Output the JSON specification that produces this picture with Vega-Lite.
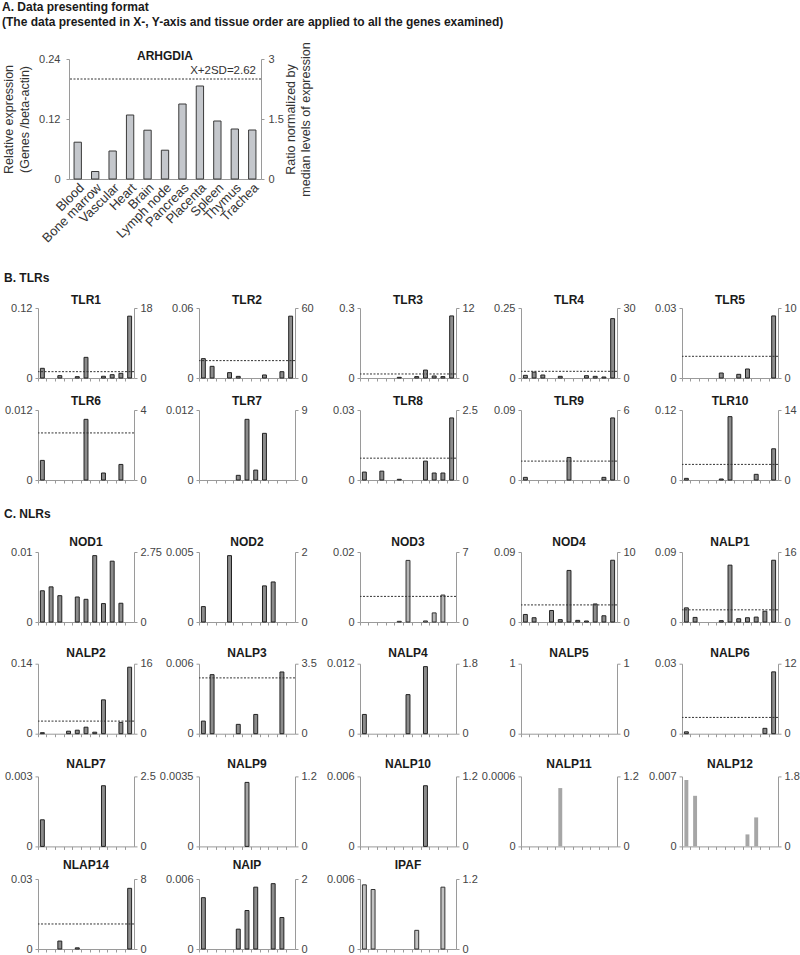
{
  "$schema": "https://vega.github.io/schema/vega-lite/v6.json",
  "padding": {"left": 2, "top": 0, "right": 2, "bottom": 0},
  "title": {"text": "A. Data presenting format", "subtitle": "\u00a0(The data presented in X-, Y-axis and tissue order are applied to all the genes examined)", "anchor": "start", "offset": 13},
  "datasets": {
    "expr": [
      {"gene":"ARHGDIA","tissue":"Blood","value":0.0736},{"gene":"ARHGDIA","tissue":"Bone marrow","value":0.015},{"gene":"ARHGDIA","tissue":"Vascular","value":0.056},{"gene":"ARHGDIA","tissue":"Heart","value":0.128},{"gene":"ARHGDIA","tissue":"Brain","value":0.0976},{"gene":"ARHGDIA","tissue":"Lymph node","value":0.0576},{"gene":"ARHGDIA","tissue":"Pancreas","value":0.150},{"gene":"ARHGDIA","tissue":"Placenta","value":0.186},{"gene":"ARHGDIA","tissue":"Spleen","value":0.116},{"gene":"ARHGDIA","tissue":"Thymus","value":0.100},{"gene":"ARHGDIA","tissue":"Trachea","value":0.098},
      {"gene":"TLR1","tissue":"Blood","value":0.0166},{"gene":"TLR1","tissue":"Vascular","value":0.004},{"gene":"TLR1","tissue":"Brain","value":0.0023},{"gene":"TLR1","tissue":"Lymph node","value":0.0354},{"gene":"TLR1","tissue":"Placenta","value":0.003},{"gene":"TLR1","tissue":"Spleen","value":0.0057},{"gene":"TLR1","tissue":"Thymus","value":0.008},{"gene":"TLR1","tissue":"Trachea","value":0.106},
      {"gene":"TLR2","tissue":"Blood","value":0.0166},{"gene":"TLR2","tissue":"Bone marrow","value":0.010},{"gene":"TLR2","tissue":"Heart","value":0.0046},{"gene":"TLR2","tissue":"Brain","value":0.0014},{"gene":"TLR2","tissue":"Placenta","value":0.0026},{"gene":"TLR2","tissue":"Thymus","value":0.0054},{"gene":"TLR2","tissue":"Trachea","value":0.053},
      {"gene":"TLR3","tissue":"Brain","value":0.003},{"gene":"TLR3","tissue":"Pancreas","value":0.006},{"gene":"TLR3","tissue":"Placenta","value":0.034},{"gene":"TLR3","tissue":"Spleen","value":0.0086},{"gene":"TLR3","tissue":"Thymus","value":0.006},{"gene":"TLR3","tissue":"Trachea","value":0.266},
      {"gene":"TLR4","tissue":"Blood","value":0.0095},{"gene":"TLR4","tissue":"Bone marrow","value":0.021},{"gene":"TLR4","tissue":"Vascular","value":0.0107},{"gene":"TLR4","tissue":"Brain","value":0.006},{"gene":"TLR4","tissue":"Placenta","value":0.0083},{"gene":"TLR4","tissue":"Spleen","value":0.006},{"gene":"TLR4","tissue":"Thymus","value":0.0036},{"gene":"TLR4","tissue":"Trachea","value":0.212},
      {"gene":"TLR5","tissue":"Brain","value":0.00214},{"gene":"TLR5","tissue":"Pancreas","value":0.00157},{"gene":"TLR5","tissue":"Placenta","value":0.00386},{"gene":"TLR5","tissue":"Trachea","value":0.0266},
      {"gene":"TLR6","tissue":"Blood","value":0.00336},{"gene":"TLR6","tissue":"Lymph node","value":0.0104},{"gene":"TLR6","tissue":"Placenta","value":0.0012},{"gene":"TLR6","tissue":"Thymus","value":0.00267},
      {"gene":"TLR7","tissue":"Brain","value":0.0008},{"gene":"TLR7","tissue":"Lymph node","value":0.0104},{"gene":"TLR7","tissue":"Pancreas","value":0.0017},{"gene":"TLR7","tissue":"Placenta","value":0.008},
      {"gene":"TLR8","tissue":"Blood","value":0.0034},{"gene":"TLR8","tissue":"Vascular","value":0.0038},{"gene":"TLR8","tissue":"Brain","value":0.0003},{"gene":"TLR8","tissue":"Placenta","value":0.0081},{"gene":"TLR8","tissue":"Spleen","value":0.003},{"gene":"TLR8","tissue":"Thymus","value":0.003},{"gene":"TLR8","tissue":"Trachea","value":0.0266},
      {"gene":"TLR9","tissue":"Blood","value":0.0034},{"gene":"TLR9","tissue":"Lymph node","value":0.029},{"gene":"TLR9","tissue":"Thymus","value":0.0034},{"gene":"TLR9","tissue":"Trachea","value":0.0798},
      {"gene":"TLR10","tissue":"Blood","value":0.0028},{"gene":"TLR10","tissue":"Brain","value":0.0017},{"gene":"TLR10","tissue":"Lymph node","value":0.1086},{"gene":"TLR10","tissue":"Spleen","value":0.0097},{"gene":"TLR10","tissue":"Trachea","value":0.0535},
      {"gene":"NOD1","tissue":"Blood","value":0.00446},{"gene":"NOD1","tissue":"Bone marrow","value":0.00502},{"gene":"NOD1","tissue":"Vascular","value":0.00376},{"gene":"NOD1","tissue":"Brain","value":0.00357},{"gene":"NOD1","tissue":"Lymph node","value":0.00324},{"gene":"NOD1","tissue":"Pancreas","value":0.00948},{"gene":"NOD1","tissue":"Placenta","value":0.00263},{"gene":"NOD1","tissue":"Spleen","value":0.00869},{"gene":"NOD1","tissue":"Thymus","value":0.00268},
      {"gene":"NOD2","tissue":"Blood","value":0.0011},{"gene":"NOD2","tissue":"Heart","value":0.00474},{"gene":"NOD2","tissue":"Placenta","value":0.00258},{"gene":"NOD2","tissue":"Spleen","value":0.00286},
      {"gene":"NOD3","tissue":"Brain","value":0.0002},{"gene":"NOD3","tissue":"Lymph node","value":0.0176},{"gene":"NOD3","tissue":"Placenta","value":0.0003},{"gene":"NOD3","tissue":"Spleen","value":0.0026},{"gene":"NOD3","tissue":"Thymus","value":0.0077},
      {"gene":"NOD4","tissue":"Blood","value":0.0097},{"gene":"NOD4","tissue":"Bone marrow","value":0.0055},{"gene":"NOD4","tissue":"Heart","value":0.0148},{"gene":"NOD4","tissue":"Brain","value":0.003},{"gene":"NOD4","tissue":"Lymph node","value":0.0663},{"gene":"NOD4","tissue":"Pancreas","value":0.0021},{"gene":"NOD4","tissue":"Placenta","value":0.0013},{"gene":"NOD4","tissue":"Spleen","value":0.0232},{"gene":"NOD4","tissue":"Thymus","value":0.008},{"gene":"NOD4","tissue":"Trachea","value":0.0794},
      {"gene":"NALP1","tissue":"Blood","value":0.0182},{"gene":"NALP1","tissue":"Bone marrow","value":0.0059},{"gene":"NALP1","tissue":"Brain","value":0.0017},{"gene":"NALP1","tissue":"Lymph node","value":0.0731},{"gene":"NALP1","tissue":"Pancreas","value":0.0042},{"gene":"NALP1","tissue":"Placenta","value":0.0055},{"gene":"NALP1","tissue":"Spleen","value":0.0063},{"gene":"NALP1","tissue":"Thymus","value":0.0139},{"gene":"NALP1","tissue":"Trachea","value":0.0794},
      {"gene":"NALP2","tissue":"Blood","value":0.002},{"gene":"NALP2","tissue":"Heart","value":0.005},{"gene":"NALP2","tissue":"Brain","value":0.007},{"gene":"NALP2","tissue":"Lymph node","value":0.013},{"gene":"NALP2","tissue":"Pancreas","value":0.003},{"gene":"NALP2","tissue":"Placenta","value":0.0677},{"gene":"NALP2","tissue":"Thymus","value":0.0226},{"gene":"NALP2","tissue":"Trachea","value":0.133},
      {"gene":"NALP3","tissue":"Blood","value":0.00108},{"gene":"NALP3","tissue":"Bone marrow","value":0.00506},{"gene":"NALP3","tissue":"Brain","value":0.0008},{"gene":"NALP3","tissue":"Pancreas","value":0.00165},{"gene":"NALP3","tissue":"Thymus","value":0.00529},
      {"gene":"NALP4","tissue":"Blood","value":0.0033},{"gene":"NALP4","tissue":"Lymph node","value":0.0067},{"gene":"NALP4","tissue":"Placenta","value":0.0115},
      {"gene":"NALP6","tissue":"Blood","value":0.0008},{"gene":"NALP6","tissue":"Thymus","value":0.0023},{"gene":"NALP6","tissue":"Trachea","value":0.0265},
      {"gene":"NALP7","tissue":"Blood","value":0.00114},{"gene":"NALP7","tissue":"Placenta","value":0.0026},
      {"gene":"NALP9","tissue":"Lymph node","value":0.0032},
      {"gene":"NALP10","tissue":"Placenta","value":0.0052},
      {"gene":"NALP11","tissue":"Brain","value":0.0005},
      {"gene":"NALP12","tissue":"Blood","value":0.00664},{"gene":"NALP12","tissue":"Bone marrow","value":0.00506},{"gene":"NALP12","tissue":"Placenta","value":0.0012},{"gene":"NALP12","tissue":"Spleen","value":0.0029},
      {"gene":"NLAP14","tissue":"Vascular","value":0.0034},{"gene":"NLAP14","tissue":"Brain","value":0.0005},{"gene":"NLAP14","tissue":"Trachea","value":0.026},
      {"gene":"NAIP","tissue":"Blood","value":0.0044},{"gene":"NAIP","tissue":"Brain","value":0.0017},{"gene":"NAIP","tissue":"Lymph node","value":0.0033},{"gene":"NAIP","tissue":"Pancreas","value":0.0053},{"gene":"NAIP","tissue":"Spleen","value":0.0056},{"gene":"NAIP","tissue":"Thymus","value":0.0027},
      {"gene":"IPAF","tissue":"Blood","value":0.0055},{"gene":"IPAF","tissue":"Bone marrow","value":0.0051},{"gene":"IPAF","tissue":"Pancreas","value":0.0016},{"gene":"IPAF","tissue":"Thymus","value":0.0053}
    ],
    "thr": [
      {"gene":"ARHGDIA","ratio":2.5,"label":"X+2SD=2.62"},
      {"gene":"TLR1","ratio":1.63},{"gene":"TLR2","ratio":14.9},{"gene":"TLR3","ratio":0.69},{"gene":"TLR4","ratio":2.86},{"gene":"TLR5","ratio":3.1},
      {"gene":"TLR6","ratio":2.69},{"gene":"TLR8","ratio":0.78},{"gene":"TLR9","ratio":1.62},{"gene":"TLR10","ratio":3.12},
      {"gene":"NOD3","ratio":2.56},{"gene":"NOD4","ratio":2.44},{"gene":"NALP1","ratio":2.78},
      {"gene":"NALP2","ratio":2.88},{"gene":"NALP3","ratio":2.79},{"gene":"NALP6","ratio":2.79},
      {"gene":"NLAP14","ratio":2.86}
    ]
  },
  "columns": 1,
  "align": "none",
  "spacing": 27,
  "concat": [
    {
      "hconcat": [
        {"width": 31, "height": 120, "data": {"values": []}, "mark": "point", "encoding": {}},
        {
          "title": {"text": "ARHGDIA", "anchor": "middle", "frame": "group", "offset": -21},
          "width": 192, "height": 120,
          "layer": [
            {"data": {"name": "expr"}, "transform": [{"filter": "datum.gene === 'ARHGDIA'"}],
             "mark": {"type": "bar", "width": {"band": 0.42}, "fill": "#c4c7cc", "stroke": "#3a3a3a", "strokeWidth": 1},
             "encoding": {
               "x": {"field": "tissue", "type": "nominal", "title": null, "scale": {"domain": ["Blood","Bone marrow","Vascular","Heart","Brain","Lymph node","Pancreas","Placenta","Spleen","Thymus","Trachea"], "paddingInner": 0, "paddingOuter": 0}, "axis": {"labels": true, "ticks": false, "bandPosition": 0.5, "labelAngle": -45, "labelFontSize": 13, "labelColor": "#333", "labelPadding": 2}},
               "y": {"field": "value", "type": "quantitative", "scale": {"domain": [0, 0.24], "nice": false}, "axis": {"values": [0, 0.12, 0.24], "format": ".6~g", "title": ["Relative expression", "(Genes /beta-actin)"], "titleFontSize": 12.5, "titleFontWeight": "normal", "titleColor": "#333", "titlePadding": 4, "titleLineHeight": 16, "labelPadding": 6}}
             }},
            {"layer": [
              {"data": {"name": "thr"}, "transform": [{"filter": "datum.gene === 'ARHGDIA'"}],
               "mark": {"type": "rule", "strokeDash": [2, 1.5], "color": "#333", "strokeWidth": 1},
               "encoding": {"y": {"field": "ratio", "type": "quantitative", "scale": {"domain": [0, 3], "nice": false}, "axis": {"orient": "right", "values": [0, 1.5, 3], "format": ".6~g", "title": ["Ratio normalized by", "median levels of expression"], "titleAngle": -90, "titleBaseline": "top", "titleFontSize": 12.5, "titleFontWeight": "normal", "titleColor": "#333", "titlePadding": -14, "titleLineHeight": 15, "labelPadding": 4}}}},
              {"data": {"name": "thr"}, "transform": [{"filter": "datum.gene === 'ARHGDIA'"}],
               "mark": {"type": "text", "align": "right", "baseline": "bottom", "dx": -5, "dy": -3, "fontSize": 11.5, "color": "#333", "font": "Liberation Sans"},
               "encoding": {"x": {"datum": "Trachea", "type": "nominal", "bandPosition": 1}, "y": {"field": "ratio", "type": "quantitative"}, "text": {"field": "label"}}}
            ]}
          ],
          "resolve": {"scale": {"y": "independent"}}
        }
      ],
      "spacing": 0,
      "bounds": "flush"
    },
    {
      "columns": 1,
      "align": "none",
      "spacing": 23,
      "concat": [
        {
          "title": {"text": "B. TLRs", "anchor": "start", "offset": 9},
          "columns": 1,
          "align": "none",
          "spacing": 12,
          "concat": [
            {"hconcat": [
              {"title": {"text": "TLR1", "anchor": "middle", "offset": -5}, "width": 96, "height": 70, "layer": [
                {"data": {"name": "expr"}, "transform": [{"filter": "datum.gene === 'TLR1'"}], "mark": {"type": "bar", "width": {"band": 0.45}, "fill": "#8c8c8c", "stroke": "#222", "strokeWidth": 1}, "encoding": {"x": {"field": "tissue", "type": "nominal", "title": null, "scale": {"domain": ["Blood","Bone marrow","Vascular","Heart","Brain","Lymph node","Pancreas","Placenta","Spleen","Thymus","Trachea"], "paddingInner": 0, "paddingOuter": 0}}, "y": {"field": "value", "type": "quantitative", "title": null, "scale": {"domain": [0, 0.12], "nice": false}, "axis": {"values": [0, 0.12], "format": ".6~g"}}}},
                {"data": {"name": "thr"}, "transform": [{"filter": "datum.gene === 'TLR1'"}], "mark": {"type": "rule", "strokeDash": [2, 1.5], "color": "#333", "strokeWidth": 1}, "encoding": {"y": {"field": "ratio", "type": "quantitative", "title": null, "scale": {"domain": [0, 18], "nice": false}, "axis": {"orient": "right", "values": [0, 18], "format": ".6~g"}}}}
              ], "resolve": {"scale": {"y": "independent"}}},
              {"title": {"text": "TLR2", "anchor": "middle", "offset": -5}, "width": 96, "height": 70, "layer": [
                {"data": {"name": "expr"}, "transform": [{"filter": "datum.gene === 'TLR2'"}], "mark": {"type": "bar", "width": {"band": 0.45}, "fill": "#8c8c8c", "stroke": "#222", "strokeWidth": 1}, "encoding": {"x": {"field": "tissue", "type": "nominal", "title": null, "scale": {"domain": ["Blood","Bone marrow","Vascular","Heart","Brain","Lymph node","Pancreas","Placenta","Spleen","Thymus","Trachea"], "paddingInner": 0, "paddingOuter": 0}}, "y": {"field": "value", "type": "quantitative", "title": null, "scale": {"domain": [0, 0.06], "nice": false}, "axis": {"values": [0, 0.06], "format": ".6~g"}}}},
                {"data": {"name": "thr"}, "transform": [{"filter": "datum.gene === 'TLR2'"}], "mark": {"type": "rule", "strokeDash": [2, 1.5], "color": "#333", "strokeWidth": 1}, "encoding": {"y": {"field": "ratio", "type": "quantitative", "title": null, "scale": {"domain": [0, 60], "nice": false}, "axis": {"orient": "right", "values": [0, 60], "format": ".6~g"}}}}
              ], "resolve": {"scale": {"y": "independent"}}},
              {"title": {"text": "TLR3", "anchor": "middle", "offset": -5}, "width": 96, "height": 70, "layer": [
                {"data": {"name": "expr"}, "transform": [{"filter": "datum.gene === 'TLR3'"}], "mark": {"type": "bar", "width": {"band": 0.45}, "fill": "#8c8c8c", "stroke": "#222", "strokeWidth": 1}, "encoding": {"x": {"field": "tissue", "type": "nominal", "title": null, "scale": {"domain": ["Blood","Bone marrow","Vascular","Heart","Brain","Lymph node","Pancreas","Placenta","Spleen","Thymus","Trachea"], "paddingInner": 0, "paddingOuter": 0}}, "y": {"field": "value", "type": "quantitative", "title": null, "scale": {"domain": [0, 0.3], "nice": false}, "axis": {"values": [0, 0.3], "format": ".6~g"}}}},
                {"data": {"name": "thr"}, "transform": [{"filter": "datum.gene === 'TLR3'"}], "mark": {"type": "rule", "strokeDash": [2, 1.5], "color": "#333", "strokeWidth": 1}, "encoding": {"y": {"field": "ratio", "type": "quantitative", "title": null, "scale": {"domain": [0, 12], "nice": false}, "axis": {"orient": "right", "values": [0, 12], "format": ".6~g"}}}}
              ], "resolve": {"scale": {"y": "independent"}}},
              {"title": {"text": "TLR4", "anchor": "middle", "offset": -5}, "width": 96, "height": 70, "layer": [
                {"data": {"name": "expr"}, "transform": [{"filter": "datum.gene === 'TLR4'"}], "mark": {"type": "bar", "width": {"band": 0.45}, "fill": "#8c8c8c", "stroke": "#222", "strokeWidth": 1}, "encoding": {"x": {"field": "tissue", "type": "nominal", "title": null, "scale": {"domain": ["Blood","Bone marrow","Vascular","Heart","Brain","Lymph node","Pancreas","Placenta","Spleen","Thymus","Trachea"], "paddingInner": 0, "paddingOuter": 0}}, "y": {"field": "value", "type": "quantitative", "title": null, "scale": {"domain": [0, 0.25], "nice": false}, "axis": {"values": [0, 0.25], "format": ".6~g"}}}},
                {"data": {"name": "thr"}, "transform": [{"filter": "datum.gene === 'TLR4'"}], "mark": {"type": "rule", "strokeDash": [2, 1.5], "color": "#333", "strokeWidth": 1}, "encoding": {"y": {"field": "ratio", "type": "quantitative", "title": null, "scale": {"domain": [0, 30], "nice": false}, "axis": {"orient": "right", "values": [0, 30], "format": ".6~g"}}}}
              ], "resolve": {"scale": {"y": "independent"}}},
              {"title": {"text": "TLR5", "anchor": "middle", "offset": -5}, "width": 96, "height": 70, "layer": [
                {"data": {"name": "expr"}, "transform": [{"filter": "datum.gene === 'TLR5'"}], "mark": {"type": "bar", "width": {"band": 0.45}, "fill": "#8c8c8c", "stroke": "#222", "strokeWidth": 1}, "encoding": {"x": {"field": "tissue", "type": "nominal", "title": null, "scale": {"domain": ["Blood","Bone marrow","Vascular","Heart","Brain","Lymph node","Pancreas","Placenta","Spleen","Thymus","Trachea"], "paddingInner": 0, "paddingOuter": 0}}, "y": {"field": "value", "type": "quantitative", "title": null, "scale": {"domain": [0, 0.03], "nice": false}, "axis": {"values": [0, 0.03], "format": ".6~g"}}}},
                {"data": {"name": "thr"}, "transform": [{"filter": "datum.gene === 'TLR5'"}], "mark": {"type": "rule", "strokeDash": [2, 1.5], "color": "#333", "strokeWidth": 1}, "encoding": {"y": {"field": "ratio", "type": "quantitative", "title": null, "scale": {"domain": [0, 10], "nice": false}, "axis": {"orient": "right", "values": [0, 10], "format": ".6~g"}}}}
              ], "resolve": {"scale": {"y": "independent"}}}
            ], "spacing": 65, "bounds": "flush"},
            {"hconcat": [
              {"title": {"text": "TLR6", "anchor": "middle", "offset": -4}, "width": 96, "height": 70, "layer": [
                {"data": {"name": "expr"}, "transform": [{"filter": "datum.gene === 'TLR6'"}], "mark": {"type": "bar", "width": {"band": 0.45}, "fill": "#8c8c8c", "stroke": "#222", "strokeWidth": 1}, "encoding": {"x": {"field": "tissue", "type": "nominal", "title": null, "scale": {"domain": ["Blood","Bone marrow","Vascular","Heart","Brain","Lymph node","Pancreas","Placenta","Spleen","Thymus","Trachea"], "paddingInner": 0, "paddingOuter": 0}}, "y": {"field": "value", "type": "quantitative", "title": null, "scale": {"domain": [0, 0.012], "nice": false}, "axis": {"values": [0, 0.012], "format": ".6~g"}}}},
                {"data": {"name": "thr"}, "transform": [{"filter": "datum.gene === 'TLR6'"}], "mark": {"type": "rule", "strokeDash": [2, 1.5], "color": "#333", "strokeWidth": 1}, "encoding": {"y": {"field": "ratio", "type": "quantitative", "title": null, "scale": {"domain": [0, 4], "nice": false}, "axis": {"orient": "right", "values": [0, 4], "format": ".6~g"}}}}
              ], "resolve": {"scale": {"y": "independent"}}},
              {"title": {"text": "TLR7", "anchor": "middle", "offset": -4}, "width": 96, "height": 70, "layer": [
                {"data": {"name": "expr"}, "transform": [{"filter": "datum.gene === 'TLR7'"}], "mark": {"type": "bar", "width": {"band": 0.45}, "fill": "#8c8c8c", "stroke": "#222", "strokeWidth": 1}, "encoding": {"x": {"field": "tissue", "type": "nominal", "title": null, "scale": {"domain": ["Blood","Bone marrow","Vascular","Heart","Brain","Lymph node","Pancreas","Placenta","Spleen","Thymus","Trachea"], "paddingInner": 0, "paddingOuter": 0}}, "y": {"field": "value", "type": "quantitative", "title": null, "scale": {"domain": [0, 0.012], "nice": false}, "axis": {"values": [0, 0.012], "format": ".6~g"}}}},
                {"data": {"name": "thr"}, "transform": [{"filter": "datum.gene === 'TLR7'"}], "mark": {"type": "rule", "strokeDash": [2, 1.5], "color": "#333", "strokeWidth": 1}, "encoding": {"y": {"field": "ratio", "type": "quantitative", "title": null, "scale": {"domain": [0, 9], "nice": false}, "axis": {"orient": "right", "values": [0, 9], "format": ".6~g"}}}}
              ], "resolve": {"scale": {"y": "independent"}}},
              {"title": {"text": "TLR8", "anchor": "middle", "offset": -4}, "width": 96, "height": 70, "layer": [
                {"data": {"name": "expr"}, "transform": [{"filter": "datum.gene === 'TLR8'"}], "mark": {"type": "bar", "width": {"band": 0.45}, "fill": "#8c8c8c", "stroke": "#222", "strokeWidth": 1}, "encoding": {"x": {"field": "tissue", "type": "nominal", "title": null, "scale": {"domain": ["Blood","Bone marrow","Vascular","Heart","Brain","Lymph node","Pancreas","Placenta","Spleen","Thymus","Trachea"], "paddingInner": 0, "paddingOuter": 0}}, "y": {"field": "value", "type": "quantitative", "title": null, "scale": {"domain": [0, 0.03], "nice": false}, "axis": {"values": [0, 0.03], "format": ".6~g"}}}},
                {"data": {"name": "thr"}, "transform": [{"filter": "datum.gene === 'TLR8'"}], "mark": {"type": "rule", "strokeDash": [2, 1.5], "color": "#333", "strokeWidth": 1}, "encoding": {"y": {"field": "ratio", "type": "quantitative", "title": null, "scale": {"domain": [0, 2.5], "nice": false}, "axis": {"orient": "right", "values": [0, 2.5], "format": ".6~g"}}}}
              ], "resolve": {"scale": {"y": "independent"}}},
              {"title": {"text": "TLR9", "anchor": "middle", "offset": -4}, "width": 96, "height": 70, "layer": [
                {"data": {"name": "expr"}, "transform": [{"filter": "datum.gene === 'TLR9'"}], "mark": {"type": "bar", "width": {"band": 0.45}, "fill": "#8c8c8c", "stroke": "#222", "strokeWidth": 1}, "encoding": {"x": {"field": "tissue", "type": "nominal", "title": null, "scale": {"domain": ["Blood","Bone marrow","Vascular","Heart","Brain","Lymph node","Pancreas","Placenta","Spleen","Thymus","Trachea"], "paddingInner": 0, "paddingOuter": 0}}, "y": {"field": "value", "type": "quantitative", "title": null, "scale": {"domain": [0, 0.09], "nice": false}, "axis": {"values": [0, 0.09], "format": ".6~g"}}}},
                {"data": {"name": "thr"}, "transform": [{"filter": "datum.gene === 'TLR9'"}], "mark": {"type": "rule", "strokeDash": [2, 1.5], "color": "#333", "strokeWidth": 1}, "encoding": {"y": {"field": "ratio", "type": "quantitative", "title": null, "scale": {"domain": [0, 6], "nice": false}, "axis": {"orient": "right", "values": [0, 6], "format": ".6~g"}}}}
              ], "resolve": {"scale": {"y": "independent"}}},
              {"title": {"text": "TLR10", "anchor": "middle", "offset": -4}, "width": 96, "height": 70, "layer": [
                {"data": {"name": "expr"}, "transform": [{"filter": "datum.gene === 'TLR10'"}], "mark": {"type": "bar", "width": {"band": 0.45}, "fill": "#8c8c8c", "stroke": "#222", "strokeWidth": 1}, "encoding": {"x": {"field": "tissue", "type": "nominal", "title": null, "scale": {"domain": ["Blood","Bone marrow","Vascular","Heart","Brain","Lymph node","Pancreas","Placenta","Spleen","Thymus","Trachea"], "paddingInner": 0, "paddingOuter": 0}}, "y": {"field": "value", "type": "quantitative", "title": null, "scale": {"domain": [0, 0.12], "nice": false}, "axis": {"values": [0, 0.12], "format": ".6~g"}}}},
                {"data": {"name": "thr"}, "transform": [{"filter": "datum.gene === 'TLR10'"}], "mark": {"type": "rule", "strokeDash": [2, 1.5], "color": "#333", "strokeWidth": 1}, "encoding": {"y": {"field": "ratio", "type": "quantitative", "title": null, "scale": {"domain": [0, 14], "nice": false}, "axis": {"orient": "right", "values": [0, 14], "format": ".6~g"}}}}
              ], "resolve": {"scale": {"y": "independent"}}}
            ], "spacing": 65, "bounds": "flush"}
          ]
        },
        {
          "title": {"text": "C. NLRs", "anchor": "start", "offset": 15},
          "columns": 1,
          "align": "none",
          "spacing": 6,
          "concat": [
            {
              "columns": 1,
              "align": "none",
              "spacing": 19.7,
              "concat": [
                {"hconcat": [
                  {"title": {"text": "NOD1", "anchor": "middle", "offset": -3}, "width": 96, "height": 70, "layer": [
                    {"data": {"name": "expr"}, "transform": [{"filter": "datum.gene === 'NOD1'"}], "mark": {"type": "bar", "width": {"band": 0.45}, "fill": "#8c8c8c", "stroke": "#222", "strokeWidth": 1}, "encoding": {"x": {"field": "tissue", "type": "nominal", "title": null, "scale": {"domain": ["Blood","Bone marrow","Vascular","Heart","Brain","Lymph node","Pancreas","Placenta","Spleen","Thymus","Trachea"], "paddingInner": 0, "paddingOuter": 0}}, "y": {"field": "value", "type": "quantitative", "title": null, "scale": {"domain": [0, 0.01], "nice": false}, "axis": {"values": [0, 0.01], "format": ".6~g"}}}},
                    {"data": {"name": "thr"}, "transform": [{"filter": "datum.gene === 'NOD1'"}], "mark": {"type": "rule", "strokeDash": [2, 1.5], "color": "#333", "strokeWidth": 1}, "encoding": {"y": {"field": "ratio", "type": "quantitative", "title": null, "scale": {"domain": [0, 2.75], "nice": false}, "axis": {"orient": "right", "values": [0, 2.75], "format": ".6~g"}}}}
                  ], "resolve": {"scale": {"y": "independent"}}},
                  {"title": {"text": "NOD2", "anchor": "middle", "offset": -3}, "width": 96, "height": 70, "layer": [
                    {"data": {"name": "expr"}, "transform": [{"filter": "datum.gene === 'NOD2'"}], "mark": {"type": "bar", "width": {"band": 0.45}, "fill": "#8c8c8c", "stroke": "#222", "strokeWidth": 1}, "encoding": {"x": {"field": "tissue", "type": "nominal", "title": null, "scale": {"domain": ["Blood","Bone marrow","Vascular","Heart","Brain","Lymph node","Pancreas","Placenta","Spleen","Thymus","Trachea"], "paddingInner": 0, "paddingOuter": 0}}, "y": {"field": "value", "type": "quantitative", "title": null, "scale": {"domain": [0, 0.005], "nice": false}, "axis": {"values": [0, 0.005], "format": ".6~g"}}}},
                    {"data": {"name": "thr"}, "transform": [{"filter": "datum.gene === 'NOD2'"}], "mark": {"type": "rule", "strokeDash": [2, 1.5], "color": "#333", "strokeWidth": 1}, "encoding": {"y": {"field": "ratio", "type": "quantitative", "title": null, "scale": {"domain": [0, 2], "nice": false}, "axis": {"orient": "right", "values": [0, 2], "format": ".6~g"}}}}
                  ], "resolve": {"scale": {"y": "independent"}}},
                  {"title": {"text": "NOD3", "anchor": "middle", "offset": -3}, "width": 96, "height": 70, "layer": [
                    {"data": {"name": "expr"}, "transform": [{"filter": "datum.gene === 'NOD3'"}], "mark": {"type": "bar", "width": {"band": 0.45}, "fill": "#b5b5b5", "stroke": "#333", "strokeWidth": 1}, "encoding": {"x": {"field": "tissue", "type": "nominal", "title": null, "scale": {"domain": ["Blood","Bone marrow","Vascular","Heart","Brain","Lymph node","Pancreas","Placenta","Spleen","Thymus","Trachea"], "paddingInner": 0, "paddingOuter": 0}}, "y": {"field": "value", "type": "quantitative", "title": null, "scale": {"domain": [0, 0.02], "nice": false}, "axis": {"values": [0, 0.02], "format": ".6~g"}}}},
                    {"data": {"name": "thr"}, "transform": [{"filter": "datum.gene === 'NOD3'"}], "mark": {"type": "rule", "strokeDash": [2, 1.5], "color": "#333", "strokeWidth": 1}, "encoding": {"y": {"field": "ratio", "type": "quantitative", "title": null, "scale": {"domain": [0, 7], "nice": false}, "axis": {"orient": "right", "values": [0, 7], "format": ".6~g"}}}}
                  ], "resolve": {"scale": {"y": "independent"}}},
                  {"title": {"text": "NOD4", "anchor": "middle", "offset": -3}, "width": 96, "height": 70, "layer": [
                    {"data": {"name": "expr"}, "transform": [{"filter": "datum.gene === 'NOD4'"}], "mark": {"type": "bar", "width": {"band": 0.45}, "fill": "#8c8c8c", "stroke": "#222", "strokeWidth": 1}, "encoding": {"x": {"field": "tissue", "type": "nominal", "title": null, "scale": {"domain": ["Blood","Bone marrow","Vascular","Heart","Brain","Lymph node","Pancreas","Placenta","Spleen","Thymus","Trachea"], "paddingInner": 0, "paddingOuter": 0}}, "y": {"field": "value", "type": "quantitative", "title": null, "scale": {"domain": [0, 0.09], "nice": false}, "axis": {"values": [0, 0.09], "format": ".6~g"}}}},
                    {"data": {"name": "thr"}, "transform": [{"filter": "datum.gene === 'NOD4'"}], "mark": {"type": "rule", "strokeDash": [2, 1.5], "color": "#333", "strokeWidth": 1}, "encoding": {"y": {"field": "ratio", "type": "quantitative", "title": null, "scale": {"domain": [0, 10], "nice": false}, "axis": {"orient": "right", "values": [0, 10], "format": ".6~g"}}}}
                  ], "resolve": {"scale": {"y": "independent"}}},
                  {"title": {"text": "NALP1", "anchor": "middle", "offset": -3}, "width": 96, "height": 70, "layer": [
                    {"data": {"name": "expr"}, "transform": [{"filter": "datum.gene === 'NALP1'"}], "mark": {"type": "bar", "width": {"band": 0.45}, "fill": "#8c8c8c", "stroke": "#222", "strokeWidth": 1}, "encoding": {"x": {"field": "tissue", "type": "nominal", "title": null, "scale": {"domain": ["Blood","Bone marrow","Vascular","Heart","Brain","Lymph node","Pancreas","Placenta","Spleen","Thymus","Trachea"], "paddingInner": 0, "paddingOuter": 0}}, "y": {"field": "value", "type": "quantitative", "title": null, "scale": {"domain": [0, 0.09], "nice": false}, "axis": {"values": [0, 0.09], "format": ".6~g"}}}},
                    {"data": {"name": "thr"}, "transform": [{"filter": "datum.gene === 'NALP1'"}], "mark": {"type": "rule", "strokeDash": [2, 1.5], "color": "#333", "strokeWidth": 1}, "encoding": {"y": {"field": "ratio", "type": "quantitative", "title": null, "scale": {"domain": [0, 16], "nice": false}, "axis": {"orient": "right", "values": [0, 16], "format": ".6~g"}}}}
                  ], "resolve": {"scale": {"y": "independent"}}}
                ], "spacing": 65, "bounds": "flush"},
                {"hconcat": [
                  {"title": {"text": "NALP2", "anchor": "middle", "offset": -2}, "width": 96, "height": 70, "layer": [
                    {"data": {"name": "expr"}, "transform": [{"filter": "datum.gene === 'NALP2'"}], "mark": {"type": "bar", "width": {"band": 0.45}, "fill": "#8c8c8c", "stroke": "#222", "strokeWidth": 1}, "encoding": {"x": {"field": "tissue", "type": "nominal", "title": null, "scale": {"domain": ["Blood","Bone marrow","Vascular","Heart","Brain","Lymph node","Pancreas","Placenta","Spleen","Thymus","Trachea"], "paddingInner": 0, "paddingOuter": 0}}, "y": {"field": "value", "type": "quantitative", "title": null, "scale": {"domain": [0, 0.14], "nice": false}, "axis": {"values": [0, 0.14], "format": ".6~g"}}}},
                    {"data": {"name": "thr"}, "transform": [{"filter": "datum.gene === 'NALP2'"}], "mark": {"type": "rule", "strokeDash": [2, 1.5], "color": "#333", "strokeWidth": 1}, "encoding": {"y": {"field": "ratio", "type": "quantitative", "title": null, "scale": {"domain": [0, 16], "nice": false}, "axis": {"orient": "right", "values": [0, 16], "format": ".6~g"}}}}
                  ], "resolve": {"scale": {"y": "independent"}}},
                  {"title": {"text": "NALP3", "anchor": "middle", "offset": -2}, "width": 96, "height": 70, "layer": [
                    {"data": {"name": "expr"}, "transform": [{"filter": "datum.gene === 'NALP3'"}], "mark": {"type": "bar", "width": {"band": 0.45}, "fill": "#8c8c8c", "stroke": "#222", "strokeWidth": 1}, "encoding": {"x": {"field": "tissue", "type": "nominal", "title": null, "scale": {"domain": ["Blood","Bone marrow","Vascular","Heart","Brain","Lymph node","Pancreas","Placenta","Spleen","Thymus","Trachea"], "paddingInner": 0, "paddingOuter": 0}}, "y": {"field": "value", "type": "quantitative", "title": null, "scale": {"domain": [0, 0.006], "nice": false}, "axis": {"values": [0, 0.006], "format": ".6~g"}}}},
                    {"data": {"name": "thr"}, "transform": [{"filter": "datum.gene === 'NALP3'"}], "mark": {"type": "rule", "strokeDash": [2, 1.5], "color": "#333", "strokeWidth": 1}, "encoding": {"y": {"field": "ratio", "type": "quantitative", "title": null, "scale": {"domain": [0, 3.5], "nice": false}, "axis": {"orient": "right", "values": [0, 3.5], "format": ".6~g"}}}}
                  ], "resolve": {"scale": {"y": "independent"}}},
                  {"title": {"text": "NALP4", "anchor": "middle", "offset": -2}, "width": 96, "height": 70, "layer": [
                    {"data": {"name": "expr"}, "transform": [{"filter": "datum.gene === 'NALP4'"}], "mark": {"type": "bar", "width": {"band": 0.45}, "fill": "#8c8c8c", "stroke": "#222", "strokeWidth": 1}, "encoding": {"x": {"field": "tissue", "type": "nominal", "title": null, "scale": {"domain": ["Blood","Bone marrow","Vascular","Heart","Brain","Lymph node","Pancreas","Placenta","Spleen","Thymus","Trachea"], "paddingInner": 0, "paddingOuter": 0}}, "y": {"field": "value", "type": "quantitative", "title": null, "scale": {"domain": [0, 0.012], "nice": false}, "axis": {"values": [0, 0.012], "format": ".6~g"}}}},
                    {"data": {"name": "thr"}, "transform": [{"filter": "datum.gene === 'NALP4'"}], "mark": {"type": "rule", "strokeDash": [2, 1.5], "color": "#333", "strokeWidth": 1}, "encoding": {"y": {"field": "ratio", "type": "quantitative", "title": null, "scale": {"domain": [0, 1.8], "nice": false}, "axis": {"orient": "right", "values": [0, 1.8], "format": ".6~g"}}}}
                  ], "resolve": {"scale": {"y": "independent"}}},
                  {"title": {"text": "NALP5", "anchor": "middle", "offset": -2}, "width": 96, "height": 70, "layer": [
                    {"data": {"name": "expr"}, "transform": [{"filter": "datum.gene === 'NALP5'"}], "mark": {"type": "bar", "width": {"band": 0.45}, "fill": "#8c8c8c", "stroke": "#222", "strokeWidth": 1}, "encoding": {"x": {"field": "tissue", "type": "nominal", "title": null, "scale": {"domain": ["Blood","Bone marrow","Vascular","Heart","Brain","Lymph node","Pancreas","Placenta","Spleen","Thymus","Trachea"], "paddingInner": 0, "paddingOuter": 0}}, "y": {"field": "value", "type": "quantitative", "title": null, "scale": {"domain": [0, 1], "nice": false}, "axis": {"values": [0, 1], "format": ".6~g"}}}},
                    {"data": {"name": "thr"}, "transform": [{"filter": "datum.gene === 'NALP5'"}], "mark": {"type": "rule", "strokeDash": [2, 1.5], "color": "#333", "strokeWidth": 1}, "encoding": {"y": {"field": "ratio", "type": "quantitative", "title": null, "scale": {"domain": [0, 1], "nice": false}, "axis": {"orient": "right", "values": [0, 1], "format": ".6~g"}}}}
                  ], "resolve": {"scale": {"y": "independent"}}},
                  {"title": {"text": "NALP6", "anchor": "middle", "offset": -2}, "width": 96, "height": 70, "layer": [
                    {"data": {"name": "expr"}, "transform": [{"filter": "datum.gene === 'NALP6'"}], "mark": {"type": "bar", "width": {"band": 0.45}, "fill": "#8c8c8c", "stroke": "#222", "strokeWidth": 1}, "encoding": {"x": {"field": "tissue", "type": "nominal", "title": null, "scale": {"domain": ["Blood","Bone marrow","Vascular","Heart","Brain","Lymph node","Pancreas","Placenta","Spleen","Thymus","Trachea"], "paddingInner": 0, "paddingOuter": 0}}, "y": {"field": "value", "type": "quantitative", "title": null, "scale": {"domain": [0, 0.03], "nice": false}, "axis": {"values": [0, 0.03], "format": ".6~g"}}}},
                    {"data": {"name": "thr"}, "transform": [{"filter": "datum.gene === 'NALP6'"}], "mark": {"type": "rule", "strokeDash": [2, 1.5], "color": "#333", "strokeWidth": 1}, "encoding": {"y": {"field": "ratio", "type": "quantitative", "title": null, "scale": {"domain": [0, 12], "nice": false}, "axis": {"orient": "right", "values": [0, 12], "format": ".6~g"}}}}
                  ], "resolve": {"scale": {"y": "independent"}}}
                ], "spacing": 65, "bounds": "flush"},
                {"hconcat": [
                  {"title": {"text": "NALP7", "anchor": "middle", "offset": -1}, "width": 96, "height": 70, "layer": [
                    {"data": {"name": "expr"}, "transform": [{"filter": "datum.gene === 'NALP7'"}], "mark": {"type": "bar", "width": {"band": 0.45}, "fill": "#8c8c8c", "stroke": "#222", "strokeWidth": 1}, "encoding": {"x": {"field": "tissue", "type": "nominal", "title": null, "scale": {"domain": ["Blood","Bone marrow","Vascular","Heart","Brain","Lymph node","Pancreas","Placenta","Spleen","Thymus","Trachea"], "paddingInner": 0, "paddingOuter": 0}}, "y": {"field": "value", "type": "quantitative", "title": null, "scale": {"domain": [0, 0.003], "nice": false}, "axis": {"values": [0, 0.003], "format": ".6~g"}}}},
                    {"data": {"name": "thr"}, "transform": [{"filter": "datum.gene === 'NALP7'"}], "mark": {"type": "rule", "strokeDash": [2, 1.5], "color": "#333", "strokeWidth": 1}, "encoding": {"y": {"field": "ratio", "type": "quantitative", "title": null, "scale": {"domain": [0, 2.5], "nice": false}, "axis": {"orient": "right", "values": [0, 2.5], "format": ".6~g"}}}}
                  ], "resolve": {"scale": {"y": "independent"}}},
                  {"title": {"text": "NALP9", "anchor": "middle", "offset": -1}, "width": 96, "height": 70, "layer": [
                    {"data": {"name": "expr"}, "transform": [{"filter": "datum.gene === 'NALP9'"}], "mark": {"type": "bar", "width": {"band": 0.45}, "fill": "#a5a5a5", "stroke": "#222", "strokeWidth": 1}, "encoding": {"x": {"field": "tissue", "type": "nominal", "title": null, "scale": {"domain": ["Blood","Bone marrow","Vascular","Heart","Brain","Lymph node","Pancreas","Placenta","Spleen","Thymus","Trachea"], "paddingInner": 0, "paddingOuter": 0}}, "y": {"field": "value", "type": "quantitative", "title": null, "scale": {"domain": [0, 0.0035], "nice": false}, "axis": {"values": [0, 0.0035], "format": ".6~g"}}}},
                    {"data": {"name": "thr"}, "transform": [{"filter": "datum.gene === 'NALP9'"}], "mark": {"type": "rule", "strokeDash": [2, 1.5], "color": "#333", "strokeWidth": 1}, "encoding": {"y": {"field": "ratio", "type": "quantitative", "title": null, "scale": {"domain": [0, 1.2], "nice": false}, "axis": {"orient": "right", "values": [0, 1.2], "format": ".6~g"}}}}
                  ], "resolve": {"scale": {"y": "independent"}}},
                  {"title": {"text": "NALP10", "anchor": "middle", "offset": -1}, "width": 96, "height": 70, "layer": [
                    {"data": {"name": "expr"}, "transform": [{"filter": "datum.gene === 'NALP10'"}], "mark": {"type": "bar", "width": {"band": 0.45}, "fill": "#8c8c8c", "stroke": "#222", "strokeWidth": 1}, "encoding": {"x": {"field": "tissue", "type": "nominal", "title": null, "scale": {"domain": ["Blood","Bone marrow","Vascular","Heart","Brain","Lymph node","Pancreas","Placenta","Spleen","Thymus","Trachea"], "paddingInner": 0, "paddingOuter": 0}}, "y": {"field": "value", "type": "quantitative", "title": null, "scale": {"domain": [0, 0.006], "nice": false}, "axis": {"values": [0, 0.006], "format": ".6~g"}}}},
                    {"data": {"name": "thr"}, "transform": [{"filter": "datum.gene === 'NALP10'"}], "mark": {"type": "rule", "strokeDash": [2, 1.5], "color": "#333", "strokeWidth": 1}, "encoding": {"y": {"field": "ratio", "type": "quantitative", "title": null, "scale": {"domain": [0, 1.2], "nice": false}, "axis": {"orient": "right", "values": [0, 1.2], "format": ".6~g"}}}}
                  ], "resolve": {"scale": {"y": "independent"}}},
                  {"title": {"text": "NALP11", "anchor": "middle", "offset": -1}, "width": 96, "height": 70, "layer": [
                    {"data": {"name": "expr"}, "transform": [{"filter": "datum.gene === 'NALP11'"}], "mark": {"type": "bar", "width": {"band": 0.45}, "fill": "#a6a6a6", "strokeWidth": 0}, "encoding": {"x": {"field": "tissue", "type": "nominal", "title": null, "scale": {"domain": ["Blood","Bone marrow","Vascular","Heart","Brain","Lymph node","Pancreas","Placenta","Spleen","Thymus","Trachea"], "paddingInner": 0, "paddingOuter": 0}}, "y": {"field": "value", "type": "quantitative", "title": null, "scale": {"domain": [0, 0.0006], "nice": false}, "axis": {"values": [0, 0.0006], "format": ".6~g"}}}},
                    {"data": {"name": "thr"}, "transform": [{"filter": "datum.gene === 'NALP11'"}], "mark": {"type": "rule", "strokeDash": [2, 1.5], "color": "#333", "strokeWidth": 1}, "encoding": {"y": {"field": "ratio", "type": "quantitative", "title": null, "scale": {"domain": [0, 1.2], "nice": false}, "axis": {"orient": "right", "values": [0, 1.2], "format": ".6~g"}}}}
                  ], "resolve": {"scale": {"y": "independent"}}},
                  {"title": {"text": "NALP12", "anchor": "middle", "offset": -1}, "width": 96, "height": 70, "layer": [
                    {"data": {"name": "expr"}, "transform": [{"filter": "datum.gene === 'NALP12'"}], "mark": {"type": "bar", "width": {"band": 0.45}, "fill": "#a6a6a6", "strokeWidth": 0}, "encoding": {"x": {"field": "tissue", "type": "nominal", "title": null, "scale": {"domain": ["Blood","Bone marrow","Vascular","Heart","Brain","Lymph node","Pancreas","Placenta","Spleen","Thymus","Trachea"], "paddingInner": 0, "paddingOuter": 0}}, "y": {"field": "value", "type": "quantitative", "title": null, "scale": {"domain": [0, 0.007], "nice": false}, "axis": {"values": [0, 0.007], "format": ".6~g"}}}},
                    {"data": {"name": "thr"}, "transform": [{"filter": "datum.gene === 'NALP12'"}], "mark": {"type": "rule", "strokeDash": [2, 1.5], "color": "#333", "strokeWidth": 1}, "encoding": {"y": {"field": "ratio", "type": "quantitative", "title": null, "scale": {"domain": [0, 1.8], "nice": false}, "axis": {"orient": "right", "values": [0, 1.8], "format": ".6~g"}}}}
                  ], "resolve": {"scale": {"y": "independent"}}}
                ], "spacing": 65, "bounds": "flush"}
              ]
            },
            {"hconcat": [
              {"title": {"text": "NLAP14", "anchor": "middle", "offset": 1.5}, "width": 96, "height": 70, "layer": [
                {"data": {"name": "expr"}, "transform": [{"filter": "datum.gene === 'NLAP14'"}], "mark": {"type": "bar", "width": {"band": 0.45}, "fill": "#8c8c8c", "stroke": "#222", "strokeWidth": 1}, "encoding": {"x": {"field": "tissue", "type": "nominal", "title": null, "scale": {"domain": ["Blood","Bone marrow","Vascular","Heart","Brain","Lymph node","Pancreas","Placenta","Spleen","Thymus","Trachea"], "paddingInner": 0, "paddingOuter": 0}}, "y": {"field": "value", "type": "quantitative", "title": null, "scale": {"domain": [0, 0.03], "nice": false}, "axis": {"values": [0, 0.03], "format": ".6~g"}}}},
                {"data": {"name": "thr"}, "transform": [{"filter": "datum.gene === 'NLAP14'"}], "mark": {"type": "rule", "strokeDash": [2, 1.5], "color": "#333", "strokeWidth": 1}, "encoding": {"y": {"field": "ratio", "type": "quantitative", "title": null, "scale": {"domain": [0, 8], "nice": false}, "axis": {"orient": "right", "values": [0, 8], "format": ".6~g"}}}}
              ], "resolve": {"scale": {"y": "independent"}}},
              {"title": {"text": "NAIP", "anchor": "middle", "offset": 1.5}, "width": 96, "height": 70, "layer": [
                {"data": {"name": "expr"}, "transform": [{"filter": "datum.gene === 'NAIP'"}], "mark": {"type": "bar", "width": {"band": 0.45}, "fill": "#8c8c8c", "stroke": "#222", "strokeWidth": 1}, "encoding": {"x": {"field": "tissue", "type": "nominal", "title": null, "scale": {"domain": ["Blood","Bone marrow","Vascular","Heart","Brain","Lymph node","Pancreas","Placenta","Spleen","Thymus","Trachea"], "paddingInner": 0, "paddingOuter": 0}}, "y": {"field": "value", "type": "quantitative", "title": null, "scale": {"domain": [0, 0.006], "nice": false}, "axis": {"values": [0, 0.006], "format": ".6~g"}}}},
                {"data": {"name": "thr"}, "transform": [{"filter": "datum.gene === 'NAIP'"}], "mark": {"type": "rule", "strokeDash": [2, 1.5], "color": "#333", "strokeWidth": 1}, "encoding": {"y": {"field": "ratio", "type": "quantitative", "title": null, "scale": {"domain": [0, 2], "nice": false}, "axis": {"orient": "right", "values": [0, 2], "format": ".6~g"}}}}
              ], "resolve": {"scale": {"y": "independent"}}},
              {"title": {"text": "IPAF", "anchor": "middle", "offset": 1.5}, "width": 96, "height": 70, "layer": [
                {"data": {"name": "expr"}, "transform": [{"filter": "datum.gene === 'IPAF'"}], "mark": {"type": "bar", "width": {"band": 0.45}, "fill": "#c2c2c2", "stroke": "#333", "strokeWidth": 1}, "encoding": {"x": {"field": "tissue", "type": "nominal", "title": null, "scale": {"domain": ["Blood","Bone marrow","Vascular","Heart","Brain","Lymph node","Pancreas","Placenta","Spleen","Thymus","Trachea"], "paddingInner": 0, "paddingOuter": 0}}, "y": {"field": "value", "type": "quantitative", "title": null, "scale": {"domain": [0, 0.006], "nice": false}, "axis": {"values": [0, 0.006], "format": ".6~g"}}}},
                {"data": {"name": "thr"}, "transform": [{"filter": "datum.gene === 'IPAF'"}], "mark": {"type": "rule", "strokeDash": [2, 1.5], "color": "#333", "strokeWidth": 1}, "encoding": {"y": {"field": "ratio", "type": "quantitative", "title": null, "scale": {"domain": [0, 1.2], "nice": false}, "axis": {"orient": "right", "values": [0, 1.2], "format": ".6~g"}}}}
              ], "resolve": {"scale": {"y": "independent"}}}
            ], "spacing": 65, "bounds": "flush"}
          ]
        }
      ]
    }
  ],
  "config": {
    "font": "Liberation Sans",
    "view": {"stroke": null},
    "axis": {"domainColor": "#9a9a9a", "tickColor": "#9a9a9a", "labelFont": "Liberation Sans", "labelFontSize": 11, "labelColor": "#444", "tickSize": 3, "labelPadding": 3, "grid": false, "titleFont": "Liberation Sans"},
    "axisX": {"labels": false, "bandPosition": 0, "tickSize": 3},
    "axisLeft": {"minExtent": 34},
    "title": {"font": "Liberation Sans", "fontSize": 12, "fontWeight": "bold", "color": "#1a1a1a", "offset": 3, "subtitleFont": "Liberation Sans", "subtitleFontSize": 12, "subtitleFontWeight": "bold", "subtitleColor": "#1a1a1a", "subtitlePadding": 3}
  }
}
